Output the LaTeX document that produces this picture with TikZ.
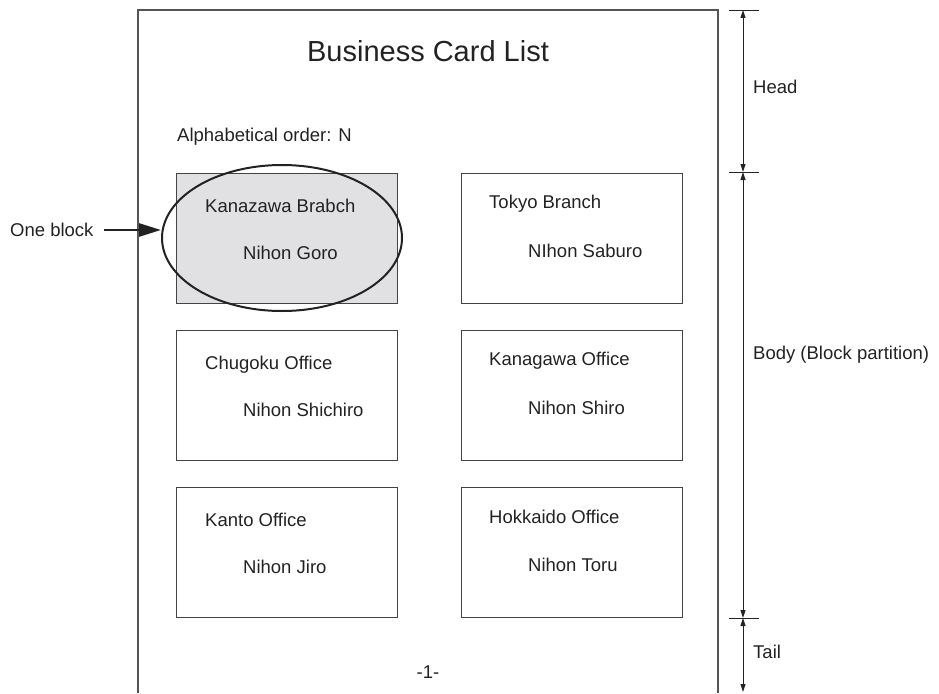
\documentclass[tikz,border=0pt]{standalone}
\usepackage{fontspec}
\setmainfont{Liberation Sans}
\usetikzlibrary{arrows.meta,shapes.geometric,calc}

\definecolor{ink}{HTML}{222222}
\definecolor{pageline}{HTML}{555555}
\definecolor{boxline}{HTML}{444444}
\definecolor{blockfill}{HTML}{E1E1E3}

\tikzset{
  txt/.style={font=\fontsize{18.5}{20}\selectfont, text=ink, inner sep=0pt, anchor=base west},
  card/.style={draw=boxline, line width=1.1pt, minimum width=221pt, minimum height=130pt,
               inner sep=0pt, anchor=north west},
  dimarrow/.style={draw=ink, line width=0.9pt,
                   {Triangle[length=8pt,width=5pt]}-{Triangle[length=8pt,width=5pt]}},
  tick/.style={draw=ink, line width=0.9pt},
  bigarrow/.style={draw=ink, line width=2.6pt, -{Triangle[length=22pt,width=13pt]}},
}

\begin{document}
\begin{tikzpicture}[x=1pt, y=-1pt]
\useasboundingbox (0,0) rectangle (939,693);

% page outline, open at the bottom
\draw[pageline, line width=1.3pt] (138,693) -- (138,10) -- (718,10) -- (718,693);

% header
\node[font=\fontsize{29}{32}\selectfont, text=ink, inner sep=0pt, anchor=base] (title) at (428,61) {Business Card List};
\node[txt] (order) at (177,141.5) {Alphabetical order: N};

% cards
\node[card, fill=blockfill] (c1) at (176,173) {};
\node[card] (c2) at (461,173) {};
\node[card] (c3) at (176,330) {};
\node[card] (c4) at (461,330) {};
\node[card] (c5) at (176,487) {};
\node[card] (c6) at (461,487) {};

\node[txt] (c1a) at (205,212.5) {Kanazawa Brabch};
\node[txt] (c1b) at (243,259.5) {Nihon Goro};
\node[txt] (c2a) at (489,208.5) {Tokyo Branch};
\node[txt] (c2b) at (528,257.5) {NIhon Saburo};
\node[txt] (c3a) at (205,369.5) {Chugoku Office};
\node[txt] (c3b) at (243,416.5) {Nihon Shichiro};
\node[txt] (c4a) at (489,365.5) {Kanagawa Office};
\node[txt] (c4b) at (528,414.5) {Nihon Shiro};
\node[txt] (c5a) at (205,526.5) {Kanto Office};
\node[txt] (c5b) at (243,573.5) {Nihon Jiro};
\node[txt] (c6a) at (489,523.5) {Hokkaido Office};
\node[txt] (c6b) at (528,571.5) {Nihon Toru};

% page number
\node[txt, anchor=base] (pnum) at (428,678) {-1-};

% one block marker
\node[draw=ink, line width=2pt, ellipse, minimum width=240pt, minimum height=146pt, inner sep=0pt] (blk) at (282,238) {};
\node[txt, anchor=west] (lbl) at (10,230) {One block};
\draw[bigarrow] ([xshift=10pt]lbl.east) -- (lbl.east -| blk.west);

% dimension lines on the right
\coordinate (h0) at (743,10);
\coordinate (h1) at (743,172);
\coordinate (h2) at (743,618);
\coordinate (h3) at (743,692);
\foreach \c in {h0,h1,h2}
  \draw[tick] ([xshift=-14pt]\c) -- ([xshift=16pt]\c);
\draw[dimarrow] (h0) -- (h1);
\draw[dimarrow] (h1) -- (h2);
\draw[dimarrow] (h2) -- (h3);

\node[txt] (head) at (753,93.5) {Head};
\node[txt] (body) at (753,359.5) {Body (Block partition)};
\node[txt] (tail) at (753,658.5) {Tail};
\end{tikzpicture}
\end{document}
